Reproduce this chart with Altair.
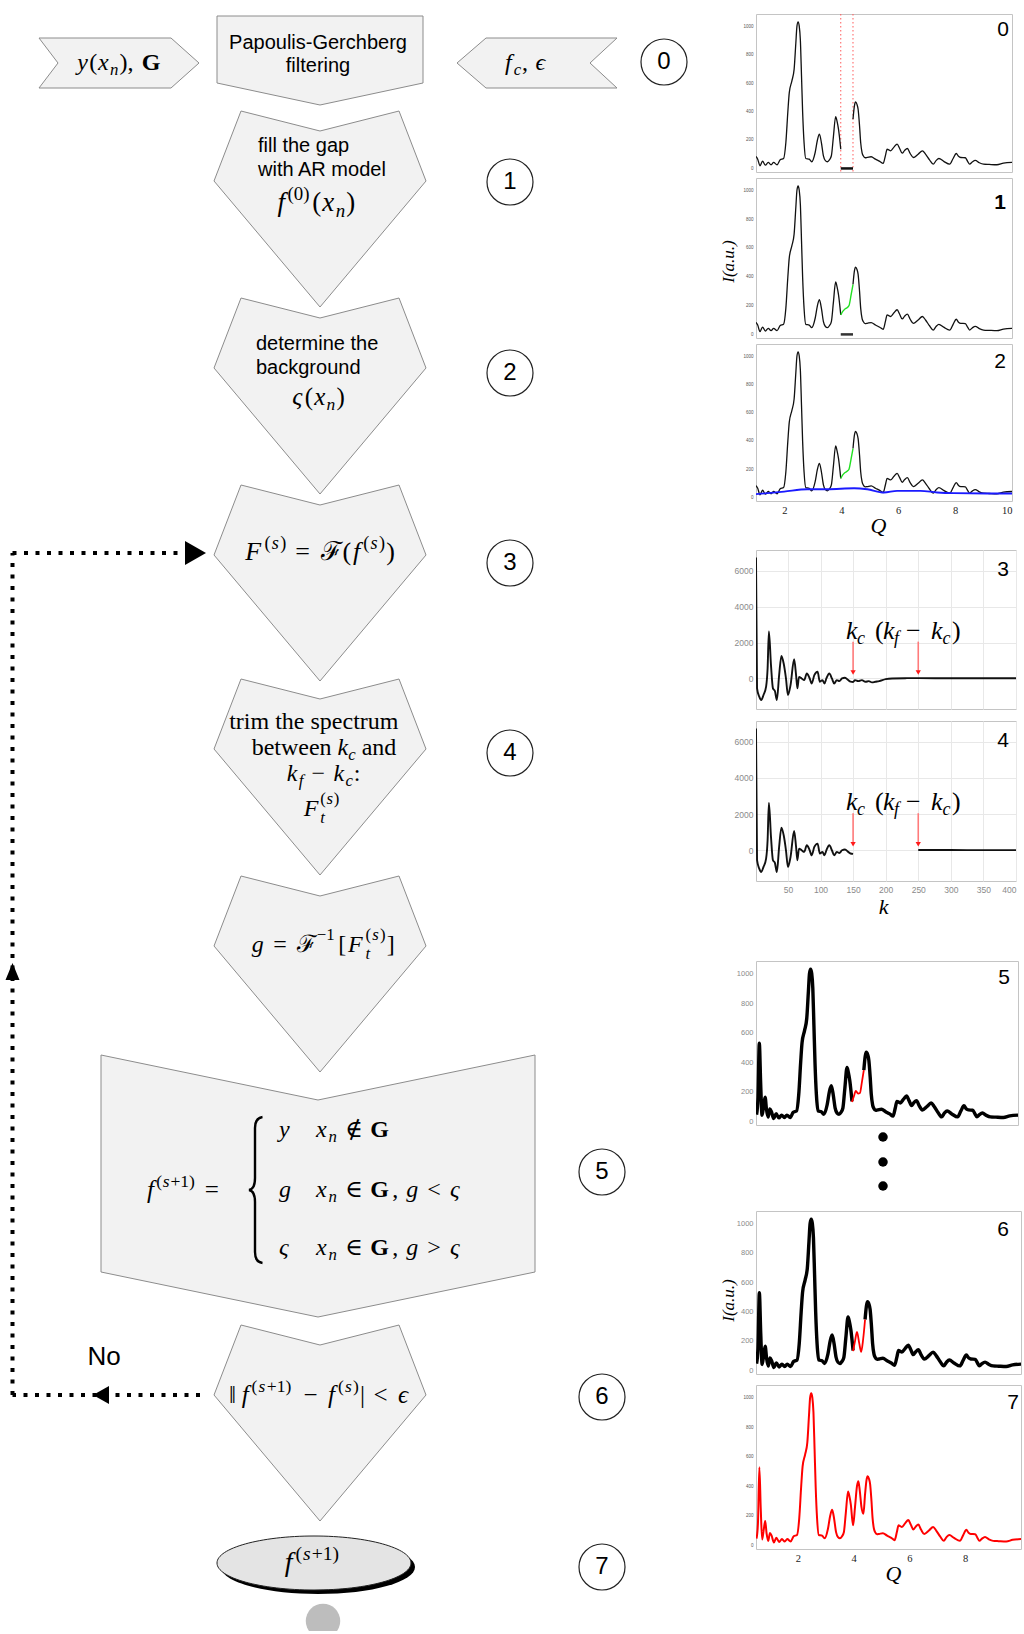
import altair as alt
import pandas as pd

# ---------------- powder pattern I(Q) ----------------
Q_LOW = [0.52, 0.57, 0.62, 0.67, 0.72, 0.78, 0.83, 0.88, 0.94]
I_LOW = [45, 150, 528, 250, 40, 110, 164, 80, 29]

Q_LEFT = [1.00, 1.06, 1.14, 1.23, 1.33, 1.43, 1.53, 1.62, 1.74, 1.85, 1.97, 2.05,
          2.12, 2.17, 2.26, 2.34, 2.40, 2.44, 2.48, 2.52, 2.56, 2.60, 2.64, 2.69,
          2.75, 2.87, 2.96, 3.08, 3.16, 3.23, 3.30, 3.37, 3.44, 3.51, 3.58, 3.65,
          3.72, 3.80, 3.85, 3.90, 3.98]
I_LEFT = [84, 65, 19, 51, 23, 42, 26, 42, 26, 61, 70, 182,
          400, 533, 614, 696, 880, 1000, 1030, 1000, 900, 650, 393, 180,
          70, 65, 47, 112, 200, 241, 180, 89, 55, 47, 60, 89,
          220, 364, 330, 276, 135]

Q_RIGHT = [4.41, 4.46, 4.50, 4.55, 4.59, 4.64, 4.68, 4.73, 4.77, 4.84, 4.91, 5.05,
           5.20, 5.35, 5.47, 5.55, 5.61, 5.67, 5.73, 5.85, 5.96, 6.05, 6.14, 6.22,
           6.32, 6.42, 6.53, 6.70, 6.85, 6.96, 7.10, 7.23, 7.33, 7.43, 7.60, 7.81,
           7.93, 8.04, 8.12, 8.20, 8.36, 8.44, 8.51, 8.60, 8.71, 8.85, 9.00, 9.20,
           9.47, 9.70, 10.0]
I_RIGHT = [346, 440, 467, 450, 416, 300, 182, 110, 89, 75, 77, 82,
           65, 50, 35, 90, 135, 130, 124, 150, 171, 140, 107, 125,
           140, 105, 77, 100, 124, 100, 60, 30, 55, 70, 50, 30,
           70, 105, 85, 77, 75, 50, 30, 45, 56, 40, 30, 28,
           26, 37, 42]

# the gap G and what is put into it at successive stages
Q_GAP = [3.98, 4.05, 4.12, 4.20, 4.27, 4.34, 4.41]
I_AR = [135, 160, 175, 185, 200, 270, 346]
I_ITER5 = [130, 170, 205, 188, 192, 265, 346]
I_ITER6 = [131, 200, 262, 185, 126, 210, 346]
Q_FINAL = [3.98, 4.05, 4.12, 4.17, 4.22, 4.28, 4.35, 4.41]
I_FINAL = [135, 260, 400, 434, 370, 260, 213, 346]

# background estimate
Q_BG = [1.0, 1.99, 2.81, 3.51, 4.45, 4.91, 5.5, 5.96, 6.78, 7.37, 7.95, 9.12, 10.0]
I_BG = [23, 42, 58, 58, 65, 58, 35, 47, 47, 35, 30, 28, 28]

# Fourier spectrum F(k)
K = [1, 2.6, 6, 9, 12.5, 16.5, 18.8, 20.8, 24, 27,
     30, 33, 36.5, 40, 43.5, 47, 50, 54, 59.5, 62.5,
     64.5, 67, 71, 75, 79, 83, 86.5, 90.5, 95.5, 99,
     103, 106, 109, 113.5, 117.5, 121, 125, 129, 133, 137.5,
     142.5, 146, 150, 153, 158, 163.5, 169, 174, 179, 184,
     190, 200, 210, 230, 250, 300, 350, 400]
F_K = [6735, -550, -1015, -1200, -920, -460, 550, 2620, 740, -550,
       -700, -1200, 185, 1255, 830, 0, -920, -370, 1070, 185,
       -550, 90, 0, -90, 280, 40, -280, 185, 370, -185,
       -90, -280, 0, 280, 0, -280, -90, -150, 0, 40,
       -90, -180, -200, -90, -150, -90, -185, -150, -220, -185,
       -150, -40, 0, 15, 18, 12, 10, 10]
KC = 150
KF = 400

I_TICKS = [0, 200, 400, 600, 800, 1000]
Q_TICKS = [2, 4, 6, 8, 10]
Q_TICKS_FULL = [2, 4, 6, 8]
K_TICKS = [50, 100, 150, 200, 250, 300, 350, 400]
F_TICKS = [0, 2000, 4000, 6000]

SERIF = "Liberation Serif, DejaVu Serif, serif"
SANS = "Liberation Sans, Arial, sans-serif"
ONE = pd.DataFrame({"o": [0]})


def curve(qs, vs):
    return pd.DataFrame({"Q": qs, "I": vs})


# ---------------- simple math typesetting ----------------
W_RM = {" ": 250, "(": 333, ")": 333, "[": 333, "]": 333, ",": 250, ":": 278,
        "=": 564, "+": 564, "−": 564, "<": 564, ">": 564, "|": 200, "‖": 420,
        "∈": 640, "∉": 640, "ℱ": 700, "ϵ": 430, "ς": 450, "0": 500, "1": 500,
        "a": 444, "b": 500, "c": 444, "d": 500, "e": 444, "f": 333, "g": 500,
        "h": 500, "i": 278, "k": 500, "l": 278, "m": 778, "n": 500, "o": 500,
        "p": 500, "r": 333, "s": 389, "t": 278, "u": 500, "w": 722, "y": 500}
W_IT = {"c": 444, "f": 330, "g": 500, "k": 444, "n": 500, "s": 389, "t": 278,
        "x": 444, "y": 444, "F": 611, "ϵ": 430, "ς": 450}
W_BF = {"G": 778}


def text_w(s, style, size):
    tbl = {"it": W_IT, "bf": W_BF}.get(style, W_RM)
    return sum(tbl.get(ch, W_RM.get(ch, 500)) for ch in s) * size / 1000.0


def set_math(runs, x, y, fs, align="center", spread=1.12):
    """Lay out runs (text, style, role[, restack]) left to right.
    role: b = base, p = superscript, d = subscript; a restacked superscript
    sits above the preceding subscript."""
    out = []
    pen = right = script_x = 0.0
    prev_small = False
    stacked = any(len(r) > 3 for r in runs)
    sup_shift = -0.52 if stacked else -0.42
    sub_shift = 0.28 if stacked else 0.2
    for run in runs:
        text, style, role = run[0], run[1], run[2]
        small = role != "b"
        size = fs * 0.7 if small else fs
        if small and not prev_small:
            script_x = pen
        if not small and prev_small:
            pen = right
        if len(run) > 3:
            pen = script_x
        shift = {"b": 0.0, "p": sup_shift * fs, "d": sub_shift * fs}[role]
        lead = len(text) - len(text.lstrip())
        body = text.strip()
        if body:
            out.append({"x": pen + text_w(text[:lead], style, size) * spread,
                        "y": shift, "t": body, "fs": size, "st": style})
        pen += text_w(text, style, size) * spread
        right = max(right, pen)
        prev_small = small
    x0 = x - right / 2 if align == "center" else x
    for o in out:
        o["x"] += x0
        o["y"] += y + 0.3 * fs
    return out


math_rows = []
math_rows += set_math([("y", "it", "b"), ("(", "rm", "b"), ("x", "it", "b"), ("n", "it", "d"),
                       ("), ", "rm", "b"), ("G", "bf", "b")], 120, 60, 24)
math_rows += set_math([("f", "it", "b"), ("c", "it", "d"), (", ", "rm", "b"), ("ϵ", "it", "b")],
                      526, 60, 24)
math_rows += set_math([("f", "it", "b"), ("(0)", "rm", "p"), ("(", "rm", "b"), ("x", "it", "b"),
                       ("n", "it", "d"), (")", "rm", "b")], 317, 200, 27)
math_rows += set_math([("ς", "it", "b"), ("(", "rm", "b"), ("x", "it", "b"), ("n", "it", "d"),
                       (")", "rm", "b")], 319, 394, 25)
math_rows += set_math([("F", "it", "b"), ("(", "rm", "p"), ("s", "it", "p"), (")", "rm", "p"),
                       (" = ", "rm", "b"), ("ℱ", "cal", "b"), ("(", "rm", "b"), ("f", "it", "b"),
                       ("(", "rm", "p"), ("s", "it", "p"), (")", "rm", "p"), (")", "rm", "b")],
                      321, 549, 26, spread=1.2)
math_rows += set_math([("trim the spectrum", "rm", "b")], 324, 719, 24)
math_rows += set_math([("between ", "rm", "b"), ("k", "it", "b"), ("c", "it", "d"), (" and", "rm", "b")],
                      324, 745, 24, spread=1.0)
math_rows += set_math([("k", "it", "b"), ("f", "it", "d"), (" − ", "rm", "b"), ("k", "it", "b"),
                       ("c", "it", "d"), (":", "rm", "b")], 324, 771, 24)
math_rows += set_math([("F", "it", "b"), ("t", "it", "d"), ("(", "rm", "p", True), ("s", "it", "p"),
                       (")", "rm", "p")], 322, 806, 24)
math_rows += set_math([("g", "it", "b"), (" = ", "rm", "b"), ("ℱ", "cal", "b"), ("−1", "rm", "p"),
                       ("[", "rm", "b"), ("F", "it", "b"), ("t", "it", "d"), ("(", "rm", "p", True),
                       ("s", "it", "p"), (")", "rm", "p"), ("]", "rm", "b")], 324, 942, 24, spread=1.2)
math_rows += set_math([("f", "it", "b"), ("(", "rm", "p"), ("s", "it", "p"), ("+1)", "rm", "p"),
                       (" =", "rm", "b")], 147, 1187, 25, align="left")
for lbl, row_y in (("y", 1127), ("g", 1187), ("ς", 1245)):
    math_rows += set_math([(lbl, "it", "b")], 279, row_y, 24, align="left")
math_rows += set_math([("x", "it", "b"), ("n", "it", "d"), (" ∉ ", "rm", "b"), ("G", "bf", "b")],
                      316, 1127, 24, align="left", spread=1.17)
for rel, row_y in (("<", 1187), (">", 1245)):
    math_rows += set_math([("x", "it", "b"), ("n", "it", "d"), (" ∈ ", "rm", "b"), ("G", "bf", "b"),
                           (", ", "rm", "b"), ("g", "it", "b"), (f" {rel} ", "rm", "b"), ("ς", "it", "b")],
                          316, row_y, 24, align="left", spread=1.17)
math_rows += set_math([("‖", "rm", "b"), ("f", "it", "b"), ("(", "rm", "p"), ("s", "it", "p"),
                       ("+1)", "rm", "p"), (" − ", "rm", "b"), ("f", "it", "b"), ("(", "rm", "p"),
                       ("s", "it", "p"), (")", "rm", "p"), ("|", "rm", "b"), (" < ", "rm", "b"),
                       ("ϵ", "it", "b")], 320, 1392, 25, spread=1.2)
math_rows += set_math([("f", "it", "b"), ("(", "rm", "p"), ("s", "it", "p"), ("+1)", "rm", "p")],
                      314, 1560, 28, spread=1.15)
MATH_DF = pd.DataFrame(math_rows)


def xy(xf="x", yf="y"):
    return dict(x=alt.X(f"{xf}:Q", scale=None), y=alt.Y(f"{yf}:Q", scale=None))


# ---------------- flowchart (pixel layout) ----------------
PENTA = "M -79 0 L 0 20 L 79 0 L 106 70 L 0 196 L -106 70 Z"
BOXES = pd.DataFrame([
    (120, 60, "M -81 -25 L 51 -25 L 79 0 L 51 25 L -81 25 L -62 0 Z"),
    (320, 13, "M -103 0 L 103 0 L 103 67 L 0 89 L -103 67 Z"),
    (526, 60, "M -69 0 L -40 -25 L 91 -25 L 64 0 L 91 25 L -40 25 Z"),
    (320, 108, PENTA), (320, 295, PENTA), (320, 482, PENTA), (320, 676, PENTA),
    (320, 873, PENTA),
    (318, 1052, "M -217 0 L 0 45 L 217 0 L 217 217 L 0 262 L -217 217 Z"),
    (320, 1322, PENTA),
], columns=["x", "y", "path"])

ELLIPSE = "M -97 0 A 97 27 0 1 0 97 0 A 97 27 0 1 0 -97 0 Z"
BRACE = "M 6.5 -73 Q -1 -72 -1 -62 L -1 -12 Q -1 -1 -7 0 Q -1 1 -1 12 L -1 62 Q -1 72 6.5 73"

shapes = alt.Chart(BOXES).mark_point(
    filled=True, fill="#f2f2f2", stroke="#8c8c8c", strokeWidth=1, opacity=1, size=4
).encode(**xy(), shape=alt.Shape("path:N", scale=None))

shadow = alt.Chart(pd.DataFrame({"x": [318], "y": [1564], "path": [ELLIPSE]})).mark_point(
    filled=True, fill="#000000", strokeWidth=0, opacity=1, size=4
).encode(**xy(), shape=alt.Shape("path:N", scale=None))
ellipse = alt.Chart(pd.DataFrame({"x": [314], "y": [1560], "path": [ELLIPSE]})).mark_point(
    filled=True, fill="#e4e4e4", stroke="#222222", strokeWidth=1, opacity=1, size=4
).encode(**xy(), shape=alt.Shape("path:N", scale=None))
end_dot = alt.Chart(pd.DataFrame({"x": [323], "y": [1618]})).mark_point(
    shape="circle", filled=True, fill="#bdbdbd", opacity=1, size=1190, clip=True
).encode(**xy())

loop = alt.Chart(pd.DataFrame({
    "x": [200, 12.5, 12.5], "y": [1392, 1392, 550],
    "x2": [12.5, 12.5, 186], "y2": [1392, 550, 550],
})).mark_rule(color="black", strokeWidth=4, strokeDash=[4, 7.5], strokeCap="butt").encode(
    **xy(), x2="x2:Q", y2="y2:Q")
heads = alt.Chart(pd.DataFrame({
    "x": [206, 93, 12.5], "y": [550, 1392, 960],
    "path": ["M 0 0 L -21 -12 L -21 12 Z", "M 0 0 L 16 -9 L 16 9 Z", "M 0 0 L 7 17 L -7 17 Z"],
})).mark_point(filled=True, fill="black", strokeWidth=0, opacity=1, size=4).encode(
    **xy(), shape=alt.Shape("path:N", scale=None))
brace = alt.Chart(pd.DataFrame({"x": [256], "y": [1187], "path": [BRACE]})).mark_point(
    filled=False, fill="transparent", stroke="black", strokeWidth=2.4, opacity=1, size=4
).encode(**xy(), shape=alt.Shape("path:N", scale=None))

STEPS = pd.DataFrame({
    "t": ["0", "1", "2", "3", "4", "5", "6", "7"],
    "x": [664, 510, 510, 510, 510, 602, 602, 602],
    "y": [59, 179, 370, 560, 750, 1169, 1394, 1564],
})
step_rings = alt.Chart(STEPS).mark_point(
    shape="circle", filled=True, fill="white", stroke="#222222", strokeWidth=1.2, opacity=1, size=2116
).encode(**xy())
step_nums = alt.Chart(STEPS).mark_text(font=SANS, fontSize=24, color="black", baseline="middle").encode(
    **xy(), text="t:N")

SANS_C = pd.DataFrame({"t": ["Papoulis-Gerchberg", "filtering", "No"],
                       "x": [318, 318, 104], "y": [40, 63, 1354], "fs": [20, 20, 26]})
SANS_L = pd.DataFrame({"t": ["fill the gap", "with AR model", "determine the", "background"],
                       "x": [258, 258, 256, 256], "y": [143, 167, 341, 365], "fs": [20, 20, 20, 20]})
sans_c = alt.Chart(SANS_C).mark_text(font=SANS, color="black", align="center", baseline="middle").encode(
    **xy(), text="t:N", size=alt.Size("fs:Q", scale=None))
sans_l = alt.Chart(SANS_L).mark_text(font=SANS, color="black", align="left", baseline="middle").encode(
    **xy(), text="t:N", size=alt.Size("fs:Q", scale=None))


def math_layer(style, **font):
    return alt.Chart(MATH_DF).transform_filter(alt.datum.st == style).mark_text(
        align="left", baseline="alphabetic", color="black", **font
    ).encode(**xy(), text="t:N", size=alt.Size("fs:Q", scale=None))


flow = alt.layer(
    shapes, shadow, ellipse, end_dot, loop, heads, brace, step_rings, step_nums, sans_c, sans_l,
    math_layer("it", font=SERIF, fontStyle="italic"),
    math_layer("rm", font=SERIF),
    math_layer("bf", font=SERIF, fontWeight="bold"),
    math_layer("cal", font="DejaVu Serif, Liberation Serif, serif"),
).properties(width=756, height=1628)

# ---------------- small plots ----------------
FRAME = alt.ViewBackground(stroke="#c4c4c4", strokeWidth=1)


def i_axis(size, color, title=None, title_y=80):
    kw = dict(values=I_TICKS, format="d", labelFontSize=size, labelColor=color, labelFont=SANS,
              ticks=False, domain=False, grid=False, labelPadding=3)
    if title:
        kw.update(title=title, titleFont=SERIF, titleFontStyle="italic", titleFontWeight="normal",
                  titleFontSize=17, titleColor="black", titleAngle=270, titleX=-28, titleY=title_y,
                  titleAlign="center", titleBaseline="middle")
    else:
        kw["title"] = None
    return alt.Axis(**kw)


def q_axis(values, title_x):
    return alt.Axis(values=values, format="d", labelFont=SERIF, labelFontSize=10.5, labelColor="#222222",
                    ticks=False, domain=False, grid=False, labelPadding=4,
                    title="Q", titleFont=SERIF, titleFontStyle="italic", titleFontWeight="normal",
                    titleFontSize=22, titleColor="black", titleX=title_x, titleY=24,
                    titleBaseline="middle", titleAlign="center")


def q_enc(lo, axis):
    return alt.X("Q:Q", scale=alt.Scale(domain=[lo, 10], nice=False, zero=False), axis=axis)


def i_enc(axis):
    return alt.Y("I:Q", scale=alt.Scale(domain=[-25, 1085], nice=False, zero=False), axis=axis)


def line(df, x, y, color, width):
    return alt.Chart(df).mark_line(color=color, strokeWidth=width, interpolate="monotone", clip=True).encode(
        x=x, y=y)


def tag(text, x, y, bold=False):
    return alt.Chart(ONE).mark_text(font=SANS, fontSize=21, color="black", align="center", baseline="middle",
                                    fontWeight="bold" if bold else "normal").encode(
        x=alt.value(x), y=alt.value(y), text=alt.value(text))


left_df = curve(Q_LEFT, I_LEFT)
right_df = curve(Q_RIGHT, I_RIGHT)
left_full_df = curve(Q_LOW + Q_LEFT, I_LOW + I_LEFT)
edges_df = pd.DataFrame({"Q": [Q_GAP[0], Q_GAP[-1]]})
gap_bar_df = pd.DataFrame({"Q": [Q_GAP[0]], "Q2": [Q_GAP[-1]], "I": [0]})
ar_df = curve(Q_GAP, I_AR)
bg_df = curve(Q_BG, I_BG)

# 0: measured pattern with the gap
x0 = q_enc(1, None)
y0 = i_enc(i_axis(4.5, "#555555"))
p0 = alt.layer(
    alt.Chart(edges_df).mark_rule(color="#ff5a5a", strokeDash=[1.5, 2.5], strokeWidth=1).encode(x=x0),
    line(left_df, x0, y0, "#111111", 1.3),
    line(right_df, x0, y0, "#111111", 1.3),
    alt.Chart(gap_bar_df).mark_rule(color="#111111", strokeWidth=2.5).encode(x=x0, x2="Q2:Q", y=y0),
    tag("0", 247, 16),
).properties(width=256, height=158, view=FRAME)

# 1: AR model fills the gap
y1 = i_enc(i_axis(4.5, "#555555", title="I(a.u.)", title_y=83))
p1 = alt.layer(
    line(left_df, x0, y1, "#111111", 1.3),
    line(right_df, x0, y1, "#111111", 1.3),
    line(ar_df, x0, y1, "#22e022", 1.4),
    alt.Chart(gap_bar_df).mark_rule(color="#333333", strokeWidth=2.5).encode(x=x0, x2="Q2:Q", y=y1),
    tag("1", 244, 25, bold=True),
).properties(width=256, height=160, view=FRAME)

# 2: background
x2 = q_enc(1, q_axis(Q_TICKS, 122))
y2 = i_enc(i_axis(4.5, "#555555"))
p2 = alt.layer(
    line(left_df, x2, y2, "#111111", 1.3),
    line(right_df, x2, y2, "#111111", 1.3),
    line(ar_df, x2, y2, "#22e022", 1.4),
    line(bg_df, x2, y2, "#1a1aff", 1.8),
    tag("2", 244, 18),
).properties(width=256, height=157, view=FRAME)

# 3 / 4: spectrum and trimmed spectrum
spec_df = pd.DataFrame({"k": K, "F": F_K})
low_df = spec_df[spec_df.k <= KC]
high_df = spec_df[spec_df.k >= KF - KC]
arrow_df = pd.DataFrame({"k": [KC, KF - KC], "F": [2050, 2050], "F2": [330, 330]})
f_scale = alt.Scale(domain=[-1700, 7150], nice=False, zero=False)
k_scale = alt.Scale(domain=[1, 400], nice=False, zero=False)
f_axis = alt.Axis(values=F_TICKS, format="d", labelFontSize=8.5, labelColor="#8a8a8a", labelFont=SANS,
                  ticks=False, domain=False, grid=True, gridColor="#e8e8e8", labelPadding=3, title=None)
k_axis_plain = alt.Axis(values=K_TICKS, labels=False, ticks=False, domain=False, grid=True,
                        gridColor="#e8e8e8", title=None)
k_axis_lab = alt.Axis(values=K_TICKS, format="d", labelFontSize=8.5, labelColor="#8a8a8a", labelFont=SANS,
                      ticks=False, domain=False, grid=True, gridColor="#e8e8e8", labelPadding=4,
                      title="k", titleFont=SERIF, titleFontStyle="italic", titleFontWeight="normal",
                      titleFontSize=22, titleColor="black", titleX=127, titleY=25,
                      titleBaseline="middle", titleAlign="center")

# "k_c  (k_f - k_c)" label: (text, style, size, x, baseline)
ANNOT = [("k", "it", 26, 90, 89), ("c", "it", 18, 101, 94), ("(", "rm", 26, 119, 89),
         ("k", "it", 26, 127, 89), ("f", "it", 18, 138, 94), ("−", "rm", 26, 150, 89),
         ("k", "it", 26, 175, 89), ("c", "it", 18, 186.5, 94), (")", "rm", 26, 196, 89)]


def annot_layers():
    out = []
    for t, st, fs, ax, ay in ANNOT:
        out.append(alt.Chart(ONE).mark_text(
            font=SERIF, fontSize=fs, fontStyle="italic" if st == "it" else "normal",
            color="black", align="left", baseline="alphabetic"
        ).encode(x=alt.value(ax), y=alt.value(ay), text=alt.value(t)))
    return out


def spectrum_panel(parts, k_axis, label, height):
    xk = alt.X("k:Q", scale=k_scale, axis=k_axis)
    yf = alt.Y("F:Q", scale=f_scale, axis=f_axis)
    layers = [alt.Chart(d).mark_line(color="#111111", strokeWidth=1.9, interpolate="monotone", clip=True)
              .encode(x=xk, y=yf) for d in parts]
    layers.append(alt.Chart(arrow_df).mark_rule(color="#ff7b7b", strokeWidth=1.6).encode(x=xk, y=yf, y2="F2:Q"))
    layers.append(alt.Chart(arrow_df).mark_point(shape="triangle-down", filled=True, color="#ff1a1a",
                                                 size=28, opacity=1).encode(x=xk, y=alt.Y("F2:Q", scale=f_scale,
                                                                                            axis=f_axis)))
    layers += annot_layers()
    layers.append(tag(label, 247, 20))
    return alt.layer(*layers).properties(width=260, height=height, view=FRAME)


p3 = spectrum_panel([spec_df], k_axis_plain, "3", 159)
p4 = spectrum_panel([low_df, high_df], k_axis_lab, "4", 160)

# 5 / 6: iterations, 7: result
x5 = q_enc(0.5, None)
y5 = i_enc(i_axis(7.5, "#8a8a8a"))
p5 = alt.layer(
    line(left_full_df, x5, y5, "#000000", 3.4),
    line(right_df, x5, y5, "#000000", 3.4),
    line(curve(Q_GAP, I_ITER5), x5, y5, "#ff0000", 1.8),
    tag("5", 248, 17),
).properties(width=262, height=164, view=FRAME)

y6 = i_enc(i_axis(7.5, "#8a8a8a", title="I(a.u.)", title_y=89))
p6 = alt.layer(
    line(left_full_df, x5, y6, "#000000", 3.4),
    line(right_df, x5, y6, "#000000", 3.4),
    line(curve(Q_GAP, I_ITER6), x5, y6, "#ff0000", 1.8),
    tag("6", 247, 19),
).properties(width=265, height=163, view=FRAME)

final_df = curve(Q_LOW + Q_LEFT[:-1] + Q_FINAL + Q_RIGHT[1:], I_LOW + I_LEFT[:-1] + I_FINAL + I_RIGHT[1:])
x7 = q_enc(0.5, q_axis(Q_TICKS_FULL, 137))
y7 = i_enc(i_axis(4.5, "#555555"))
p7 = alt.layer(
    line(final_df, x7, y7, "#ff0000", 2.0),
    tag("7", 257, 18),
).properties(width=265, height=164, view=FRAME)


def spacer(h):
    return alt.Chart(ONE).mark_point(opacity=0).encode(x=alt.value(0), y=alt.value(0)).properties(
        width=10, height=h)


ellipsis = alt.Chart(pd.DataFrame({"x": [127, 127, 127], "y": [12, 37, 61]})).mark_point(
    shape="circle", filled=True, color="black", size=90, opacity=1).encode(**xy()).properties(
    width=265, height=86)

plots = alt.vconcat(
    spacer(11), p0, spacer(6), p1, spacer(6), p2, spacer(49), p3, spacer(12), p4,
    spacer(80), p5, ellipsis, p6, spacer(11), p7,
    spacing=0, bounds="flush",
)

chart = alt.hconcat(flow, plots, spacing=0, bounds="flush").properties(
    padding=0, background="white"
).configure_view(stroke=None)

chart.save("out.html", embed_options={"renderer": "svg", "actions": False})
